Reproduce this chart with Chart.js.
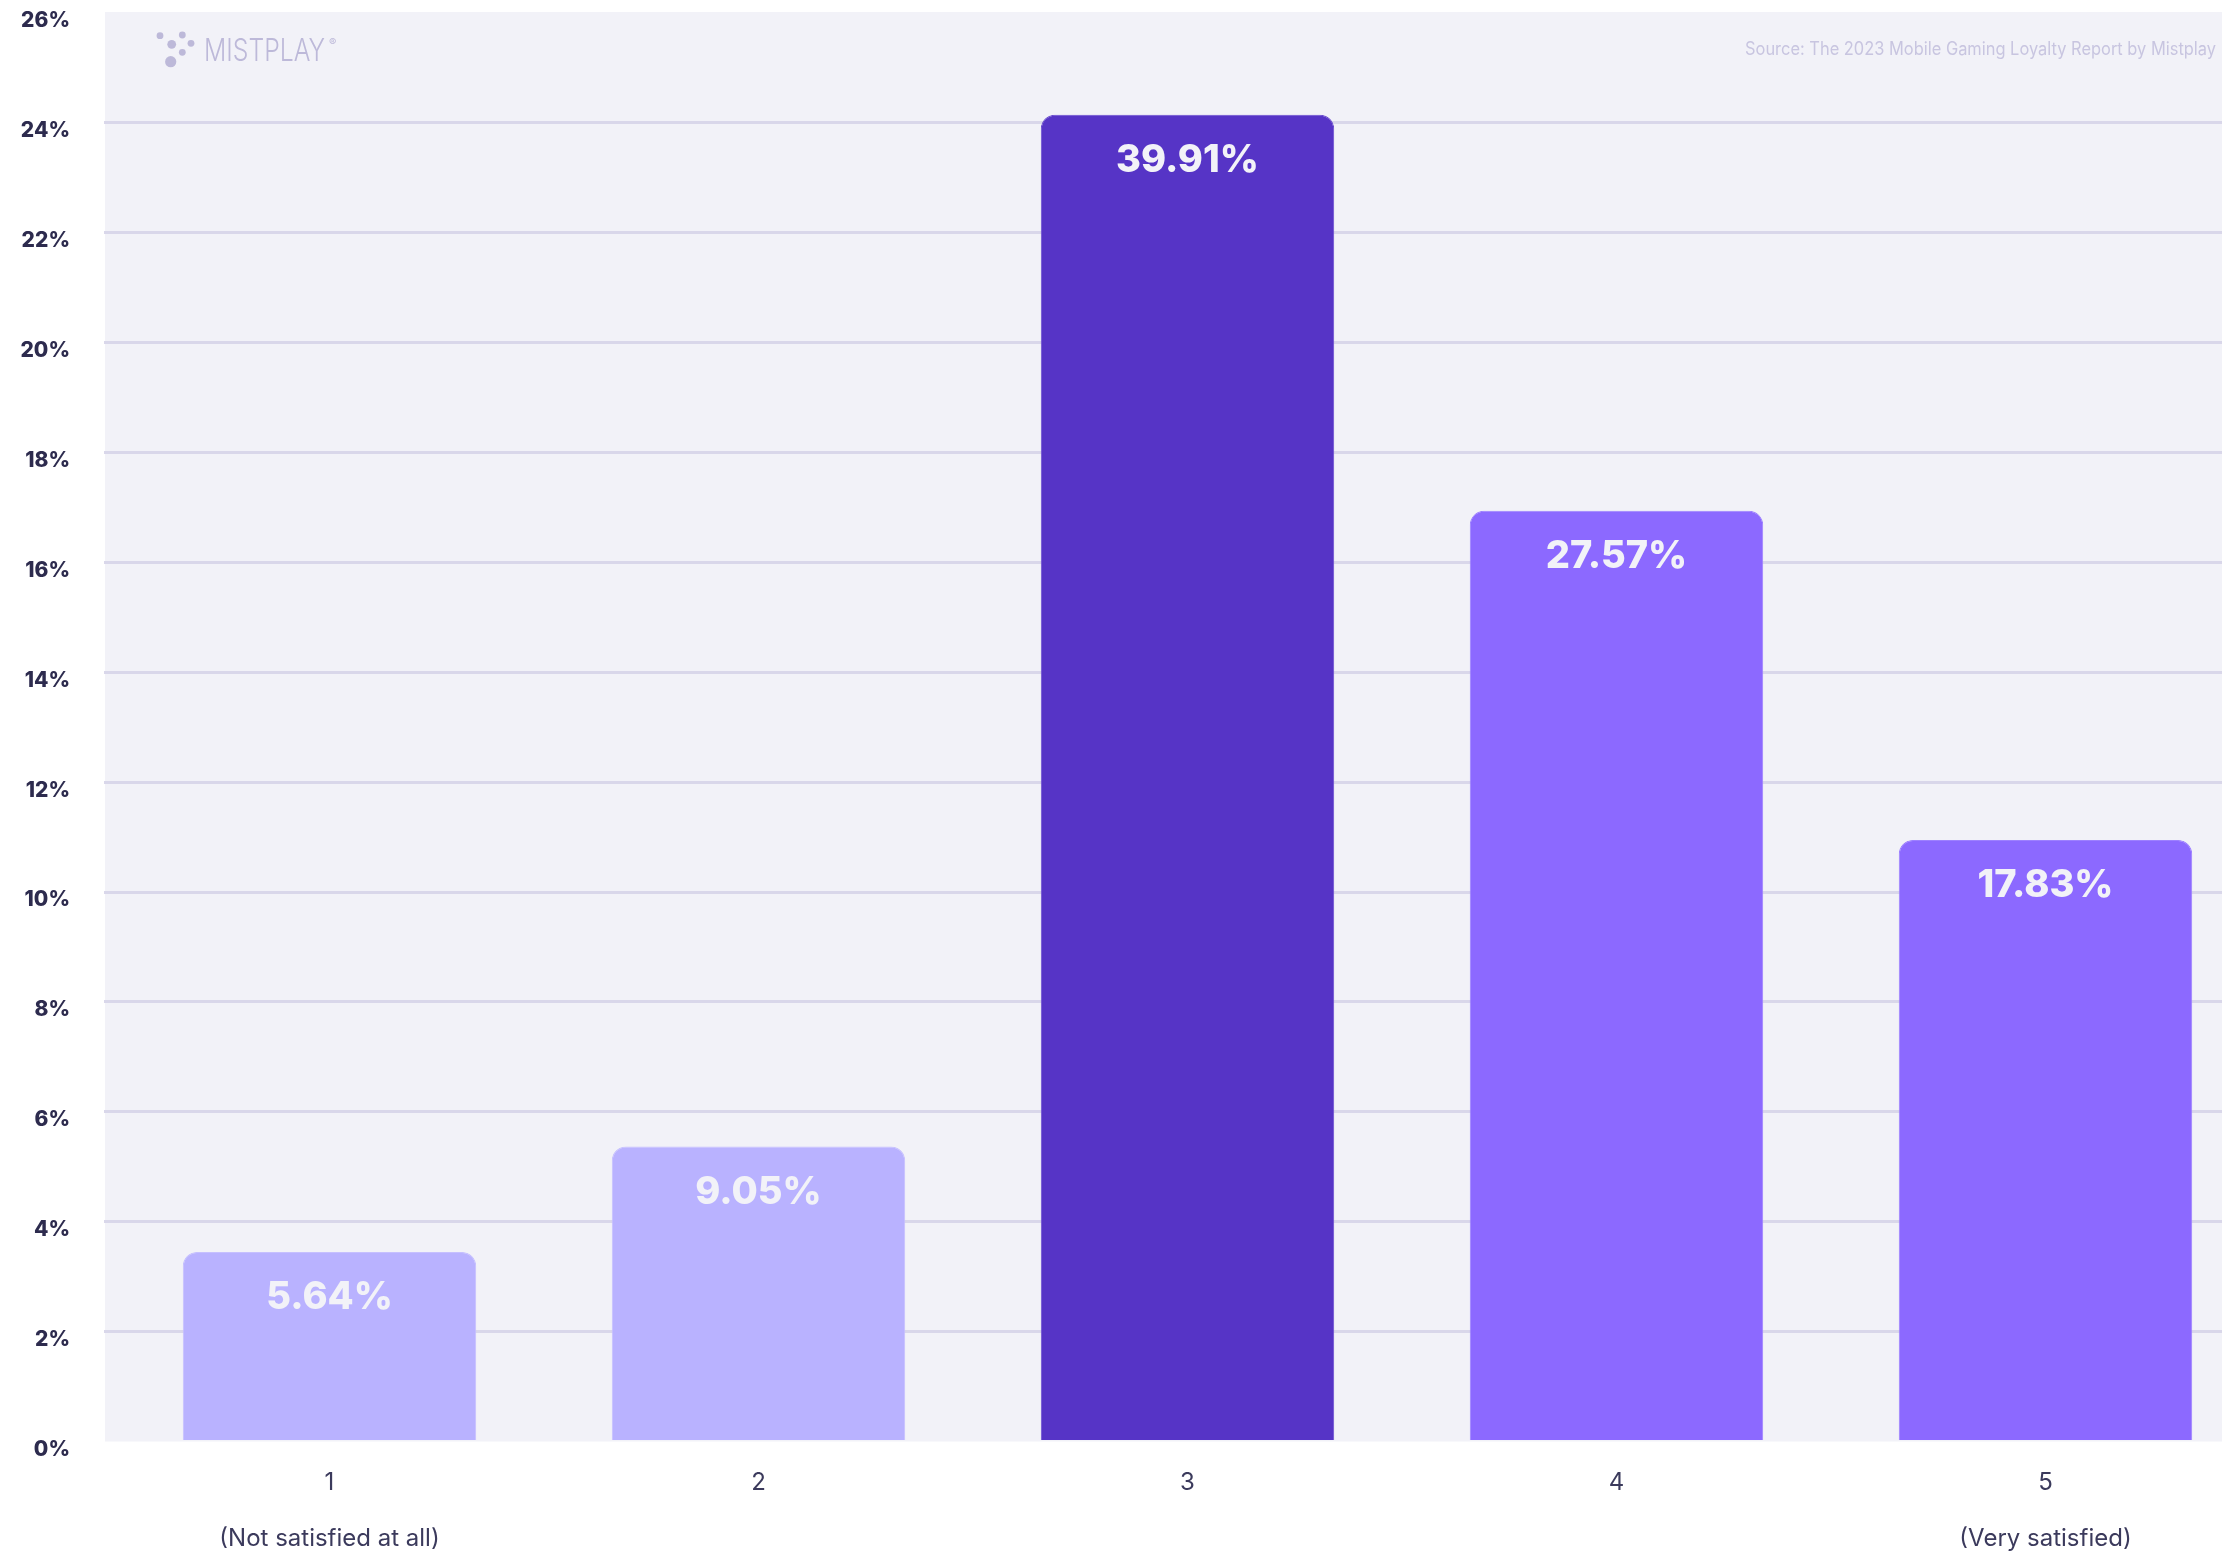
<!DOCTYPE html>
<html>
<head>
<meta charset="utf-8">
<script src="https://cdn.jsdelivr.net/npm/chart.js@4.4.1/dist/chart.umd.min.js"></script>
<style>
    html, body { margin: 0; padding: 0; background: #ffffff; overflow: hidden; }
    #chartWrap { width: 2260px; height: 1552px; }
</style>
</head>
<body>
<div id="chartWrap"><canvas id="satisfactionChart"></canvas></div>
<script>
// --- Data ---
const categories = ['1', '2', '3', '4', '5'];
const subLabels = ['(Not satisfied at all)', '', '', '', '(Very satisfied)'];
const barHeights = [3.45, 5.37, 24.15, 16.94, 10.95];   // bar tops as drawn against the axis
const valueLabels = ['5.64%', '9.05%', '39.91%', '27.57%', '17.83%'];
const yTicks = [0, 2, 4, 6, 8, 10, 12, 14, 16, 18, 20, 22, 24, 26];
const sourceText = 'Source: The 2023 Mobile Gaming Loyalty Report by Mistplay';
const brandText = 'MISTPLAY';

const barColors = ['#b9b2ff', '#b9b2ff', '#5634c6', '#8c69ff', '#8c69ff'];
const barBorders = ['#c6c0ff', '#c6c0ff', '#6a4bd0', '#9d80ff', '#9d80ff'];
const FONT = 'Inter, "Open Sans", sans-serif';

document.addEventListener('DOMContentLoaded', function () {
    const canvasElement = document.getElementById('satisfactionChart');

    // light panel behind the plot
    const plotBackground = {
        id: 'plotBackground',
        beforeDraw(chart) {
            const { ctx, chartArea } = chart;
            ctx.save();
            ctx.fillStyle = '#f2f2f8';
            ctx.fillRect(chartArea.left - 10, chartArea.top - 1, chart.width, chartArea.bottom - chartArea.top + 1);
            ctx.restore();
        }
    };

    // percentage text inside each bar
    const barValueLabels = {
        id: 'barValueLabels',
        afterDatasetsDraw(chart) {
            const { ctx } = chart;
            const meta = chart.getDatasetMeta(0);
            ctx.save();
            ctx.fillStyle = '#f2f2f8';
            ctx.font = '800 38px ' + FONT;
            ctx.textAlign = 'center';
            ctx.textBaseline = 'middle';
            meta.data.forEach((bar, i) => {
                ctx.fillText(valueLabels[i], bar.x, bar.y + 46);
            });
            ctx.restore();
        }
    };

    // logo + source line
    const branding = {
        id: 'branding',
        afterDraw(chart) {
            const { ctx } = chart;
            ctx.save();
            ctx.fillStyle = '#bdb9d9';
            const dots = [[160, 35.7, 3.4], [182.3, 35, 3.4], [171.7, 44.3, 4.4], [191, 43.3, 3.4], [182.3, 52.3, 3.4], [170.7, 61.7, 5.6]];
            dots.forEach(d => {
                ctx.beginPath();
                ctx.arc(d[0], d[1], d[2], 0, Math.PI * 2);
                ctx.fill();
            });
            ctx.font = '300 31px ' + FONT;
            ctx.textAlign = 'left';
            ctx.textBaseline = 'alphabetic';
            ctx.fillText(brandText, 204, 61, 121);
            ctx.font = '11px ' + FONT;
            ctx.fillText('\u00AE', 329, 46);

            ctx.fillStyle = '#c8c5e0';
            ctx.font = '18px ' + FONT;
            ctx.textAlign = 'right';
            ctx.textBaseline = 'middle';
            ctx.fillText(sourceText, 2216, 50, 471);
            ctx.restore();
        }
    };

    const gridColor = (c) => (c.tick && (c.tick.value === yTicks[0] || c.tick.value === yTicks[yTicks.length - 1])) ? 'rgba(0,0,0,0)' : '#d9d7ea';

    new Chart(canvasElement.getContext('2d'), {
        type: 'bar',
        data: {
            labels: categories.map((c, i) => [c, subLabels[i]]),
            datasets: [{
                data: barHeights,
                backgroundColor: barColors,
                borderColor: barBorders,
                borderWidth: 1,
                borderRadius: { topLeft: 14, topRight: 14, bottomLeft: 0, bottomRight: 0 },
                borderSkipped: 'bottom',
                barPercentage: 1,
                categoryPercentage: 0.684
            }]
        },
        options: {
            responsive: true,
            maintainAspectRatio: false,
            animation: false,
            layout: { padding: { top: 13, left: 0, right: 0, bottom: 0 } },
            plugins: {
                legend: { display: false },
                tooltip: { enabled: false }
            },
            scales: {
                x: {
                    grid: { display: false, drawTicks: false },
                    border: { display: false },
                    ticks: {
                        color: '#3b3a5c',
                        padding: 13,
                        maxRotation: 0,
                        autoSkip: false,
                        font: { family: FONT, size: 24, lineHeight: 2.35 }
                    },
                    afterFit(scale) {
                        scale.height = 110.5;
                        scale.paddingLeft = 0;
                        scale.paddingRight = 0;
                    }
                },
                y: {
                    min: yTicks[0],
                    max: yTicks[yTicks.length - 1],
                    border: { display: false },
                    grid: {
                        color: gridColor,
                        tickColor: gridColor,
                        lineWidth: 3,
                        drawTicks: true,
                        tickLength: 11
                    },
                    ticks: {
                        stepSize: 2,
                        padding: 34,
                        labelOffset: 8,
                        color: '#2d2b4e',
                        font: { family: FONT, size: 21, weight: '800' },
                        callback: function (value) { return value + '%'; }
                    },
                    afterFit(scale) {
                        scale.width = 115;
                        scale.paddingTop = 0;
                        scale.paddingBottom = 0;
                    }
                }
            }
        },
        plugins: [plotBackground, barValueLabels, branding]
    });
});
</script>
</body>
</html>
